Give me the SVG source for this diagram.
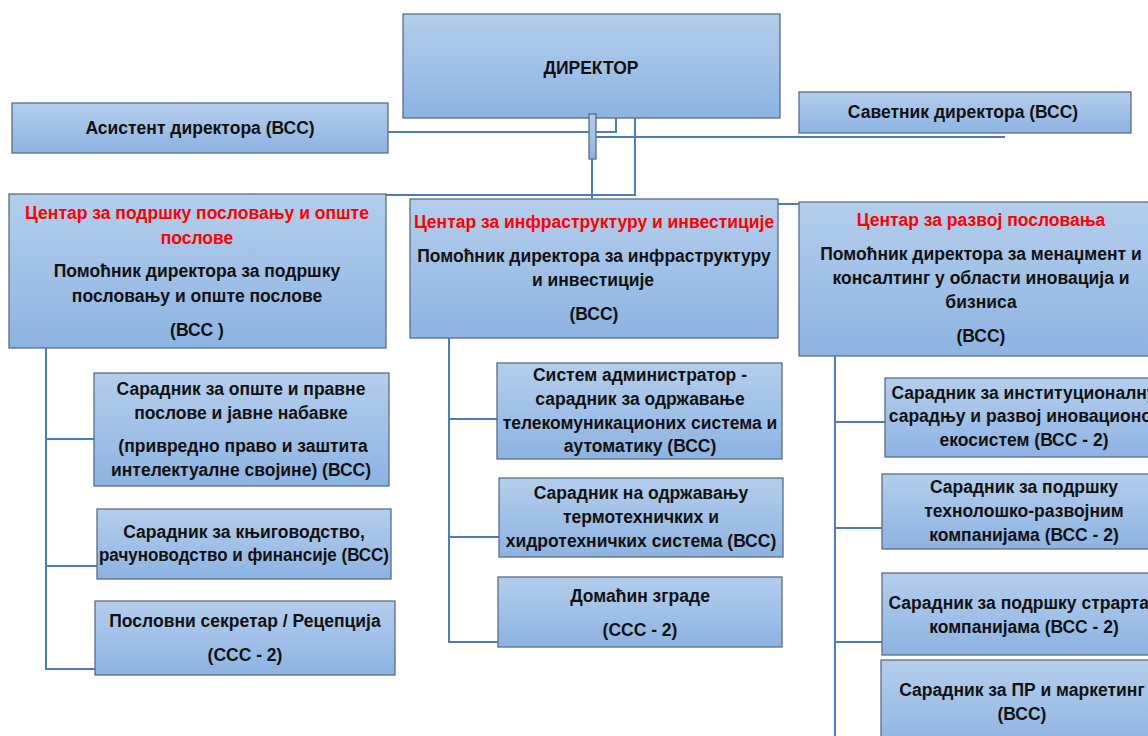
<svg xmlns="http://www.w3.org/2000/svg" width="1148" height="736" viewBox="0 0 1148 736">
<defs>
<linearGradient id="g" x1="0" y1="0" x2="0" y2="1">
<stop offset="0" stop-color="#B4CEEC"/>
<stop offset="1" stop-color="#8DB3E2"/>
</linearGradient>
<style>
.b{fill:url(#g);stroke:#5A6D84;stroke-width:1.3}
.t{font-family:"Liberation Sans",Arial,sans-serif;font-weight:bold;font-size:17.5px;fill:#111;text-anchor:middle}
.r{fill:#FF0000}
.c{fill:none;stroke:#4A7EBB;stroke-width:2}
</style>
</defs>
<rect width="1148" height="736" fill="#fff"/>
<g id="connectors">
<path class="c" d="M388,132 H616 V118"/>
<path class="c" d="M596,137 H1005"/>
<path class="c" d="M592,159 V199"/>
<path class="c" d="M635,118 V195 H386"/>
<path class="c" d="M778,204 H799"/>
<path class="c" d="M46,348 V669 H95 M46,439 H94 M46,566 H97"/>
<path class="c" d="M449,338 V642 H498 M449,419 H497 M449,537 H499"/>
<path class="c" d="M835,356 V736 M835,422 H885 M835,528 H882 M835,642 H882"/>
</g>
<g id="director">
<rect class="b" x="403" y="14" width="377" height="104"/>
<text class="t" x="591" y="74">ДИРЕКТОР</text>
</g>
<g id="junction">
<rect class="b" x="589" y="114" width="7" height="45"/>
</g>
<g id="assistant">
<rect class="b" x="12" y="103" width="376" height="50"/>
<text class="t" x="200" y="134">Асистент директора (ВСС)</text>
</g>
<g id="advisor">
<rect class="b" x="799" y="92" width="332" height="41"/>
<text class="t" x="963" y="118">Саветник директора (ВСС)</text>
</g>
<g id="center-support">
<rect class="b" x="9" y="194" width="377" height="154"/>
<text class="t r" x="197" y="219">Центар за подршку пословању и опште</text>
<text class="t r" x="197" y="244">послове</text>
<text class="t" x="197" y="277">Помоћник директора за подршку</text>
<text class="t" x="197" y="302">пословању и опште послове</text>
<text class="t" x="197" y="336">(ВСС )</text>
</g>
<g id="center-infra">
<rect class="b" x="410" y="199" width="368" height="139"/>
<text class="t r" x="594" y="228">Центар за инфраструктуру и инвестиције</text>
<text class="t" x="594" y="262">Помоћник директора за инфраструктуру</text>
<text class="t" x="593" y="286">и инвестиције</text>
<text class="t" x="594" y="320">(ВСС)</text>
</g>
<g id="center-dev">
<rect class="b" x="799" y="202" width="366" height="154"/>
<text class="t r" x="981" y="226">Центар за развој пословања</text>
<text class="t" x="981" y="260">Помоћник директора за менаџмент и</text>
<text class="t" x="981" y="284">консалтинг у области иновација и</text>
<text class="t" x="981" y="308">бизниса</text>
<text class="t" x="981" y="342">(ВСС)</text>
</g>
<g id="left-1">
<rect class="b" x="94" y="373" width="295" height="113"/>
<text class="t" x="241" y="395">Сарадник за опште и правне</text>
<text class="t" x="241" y="419">послове и јавне набавке</text>
<text class="t" x="243" y="452">(привредно право и заштита</text>
<text class="t" x="241" y="476">интелектуалне својине) (ВСС)</text>
</g>
<g id="left-2">
<rect class="b" x="97" y="509" width="294" height="70"/>
<text class="t" x="244" y="538">Сарадник за књиговодство,</text>
<text class="t" x="244" y="561" textLength="290" lengthAdjust="spacingAndGlyphs">рачуноводство  и финансије (ВСС)</text>
</g>
<g id="left-3">
<rect class="b" x="95" y="601" width="300" height="74"/>
<text class="t" x="245" y="627">Пословни секретар / Рецепција</text>
<text class="t" x="245" y="661">(ССС - 2)</text>
</g>
<g id="mid-1">
<rect class="b" x="497" y="363" width="285" height="96"/>
<text class="t" x="640" y="381">Систем администратор -</text>
<text class="t" x="640" y="405">сарадник за одржавање</text>
<text class="t" x="640" y="429">телекомуникационих система и</text>
<text class="t" x="640" y="452">аутоматику (ВСС)</text>
</g>
<g id="mid-2">
<rect class="b" x="499" y="478" width="284" height="79"/>
<text class="t" x="641" y="499">Сарадник  на одржавању</text>
<text class="t" x="641" y="523">термотехничких и</text>
<text class="t" x="641" y="547">хидротехничких система (ВСС)</text>
</g>
<g id="mid-3">
<rect class="b" x="498" y="577" width="284" height="70"/>
<text class="t" x="640" y="602">Домаћин зграде</text>
<text class="t" x="640" y="636">(ССС - 2)</text>
</g>
<g id="right-1">
<rect class="b" x="885" y="378" width="280" height="79"/>
<text class="t" x="1024" y="399">Сарадник за институционалну</text>
<text class="t" x="1024" y="422">сарадњу и развој иновационог</text>
<text class="t" x="1024" y="446">екосистем (ВСС - 2)</text>
</g>
<g id="right-2">
<rect class="b" x="882" y="474" width="283" height="75"/>
<text class="t" x="1024" y="493">Сарадник за подршку</text>
<text class="t" x="1024" y="517">технолошко-развојним</text>
<text class="t" x="1024" y="541">компанијама  (ВСС - 2)</text>
</g>
<g id="right-3">
<rect class="b" x="882" y="573" width="283" height="82"/>
<text class="t" x="1024" y="609">Сарадник за подршку страртап</text>
<text class="t" x="1024" y="633">компанијама (ВСС - 2)</text>
</g>
<g id="right-4">
<rect class="b" x="881" y="660" width="284" height="90"/>
<text class="t" x="1022" y="696">Сарадник за ПР и маркетинг</text>
<text class="t" x="1022" y="720">(ВСС)</text>
</g>
</svg>
